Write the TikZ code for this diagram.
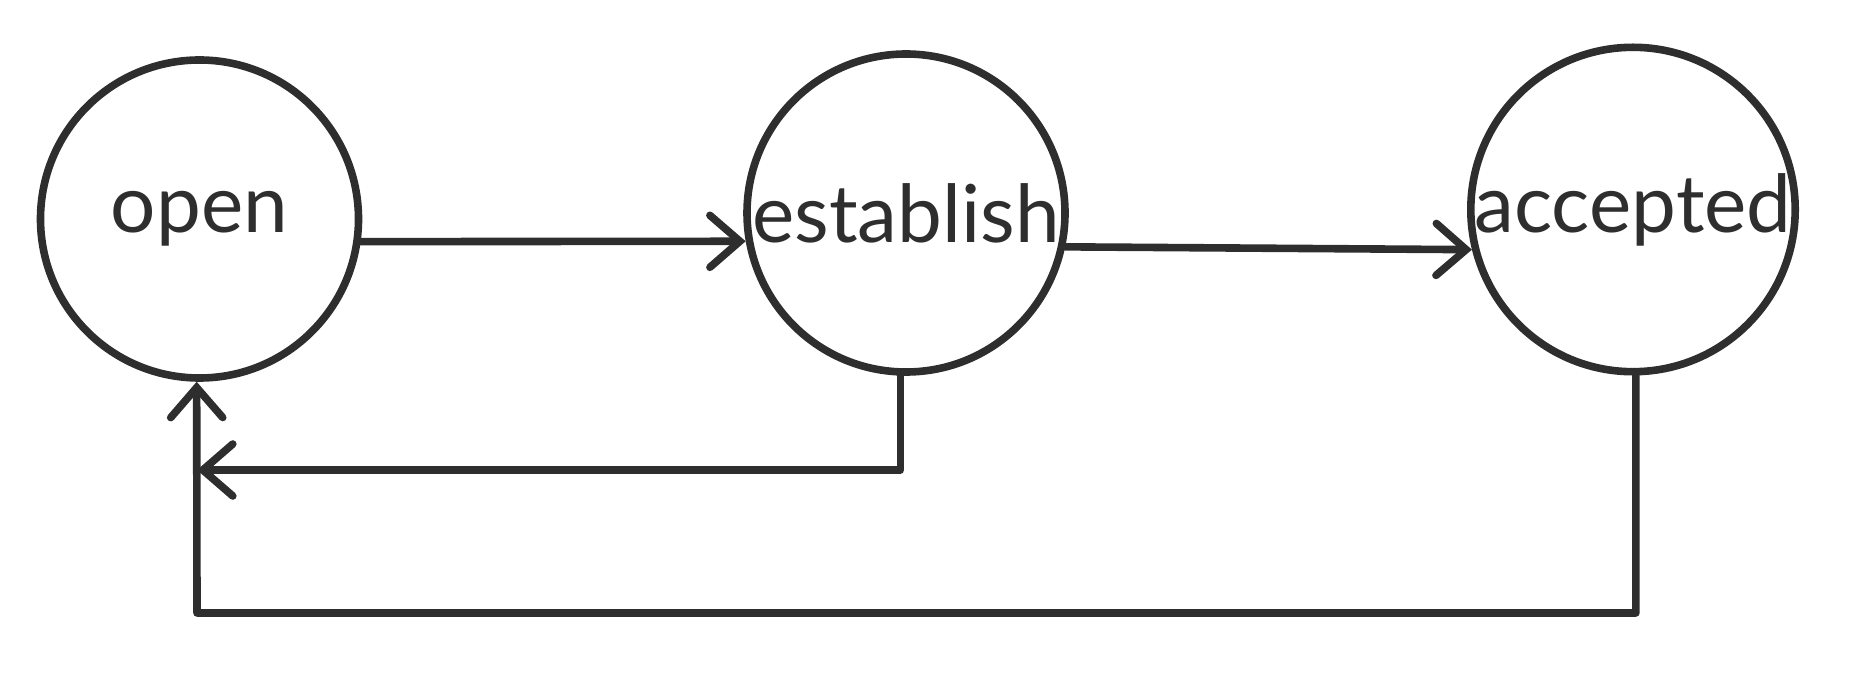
\documentclass[tikz,border=0pt]{standalone}
\usepackage{fontspec}
\setmainfont{Lato}
\usetikzlibrary{arrows.meta,positioning}
\definecolor{ink}{HTML}{2E2E2E}

\begin{document}
\begin{tikzpicture}[x=0.5pt,y=-0.5pt,->,>={Straight Barb[length=15pt,width=26pt,line cap=round]},color=ink,line width=3.8pt,line cap=round,line join=round,statenode/.style={circle,draw=ink,minimum size=159pt,inner sep=0pt,font=\fontsize{40}{42}\selectfont,text=ink}]
		\useasboundingbox (0,0) rectangle (1856,673);
		\node [statenode] (open) at (199.5, 219) {open\hspace{18pt}};
		\node [statenode] (establish) at (906, 213) {establish};
		\node [statenode] (accepted) at (1633, 209.5) {accepted};
		\coordinate (back) at (197, 470);
		\coordinate (corner) at (197, 613);
		\draw (open.-8) to (establish.190);
		\draw (establish.-12) to (accepted.194);
		\draw (establish.-92.5) |- (back);
		\draw (accepted.-89) |- (corner) -- (open.-91);
	\end{tikzpicture}
\end{document}
